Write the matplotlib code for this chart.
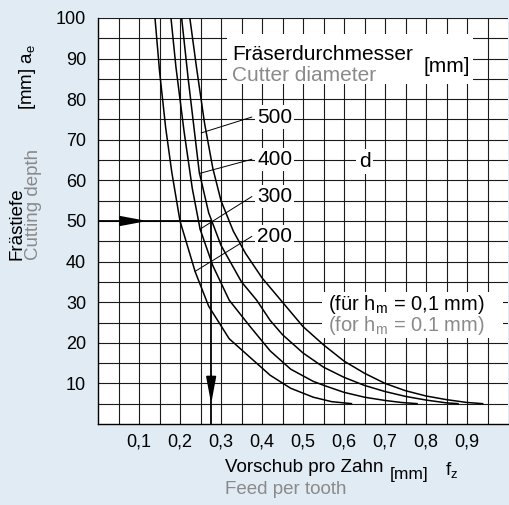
import numpy as np
import matplotlib
matplotlib.use("Agg")
import matplotlib.pyplot as plt
from matplotlib.patches import Rectangle

plt.rcParams['font.family'] = ['Liberation Sans', 'DejaVu Sans']
plt.rcParams['mathtext.default'] = 'regular'

d200_fz = [0.139, 0.15, 0.165, 0.18, 0.20, 0.237, 0.27, 0.32, 0.371, 0.42, 0.47, 0.525, 0.57, 0.62]
d200_ae = [100, 87, 73, 62, 50, 37.5, 29, 21, 16.4, 12, 8.8, 6.6, 5.5, 5.0]
d300_fz = [0.178, 0.19, 0.21, 0.23, 0.249, 0.28, 0.32, 0.371, 0.42, 0.47, 0.525, 0.554, 0.60, 0.65, 0.70, 0.74, 0.78]
d300_ae = [100, 88, 72, 58, 48, 39, 30.5, 24, 18, 13.5, 10.5, 9.4, 7.8, 6.6, 5.8, 5.3, 5.0]
d400_fz = [0.204, 0.22, 0.247, 0.27, 0.30, 0.35, 0.387, 0.42, 0.45, 0.50, 0.55, 0.60, 0.65, 0.70, 0.75, 0.80, 0.85, 0.88]
d400_ae = [100, 85, 62, 52, 44, 35, 30.5, 25.5, 22, 17.5, 14, 11.5, 9.5, 8, 6.8, 5.9, 5.2, 5.0]
d500_fz = [0.224, 0.24, 0.26, 0.28, 0.30, 0.33, 0.36, 0.40, 0.45, 0.50, 0.55, 0.60, 0.65, 0.70, 0.75, 0.80, 0.85, 0.90, 0.94]
d500_ae = [100, 88, 74, 63, 55, 47.5, 42, 36, 30, 24, 19.5, 15.5, 12.5, 10, 8.2, 6.9, 6.0, 5.3, 5.0]

kurven = [(d200_fz, d200_ae), (d300_fz, d300_ae), (d400_fz, d400_ae), (d500_fz, d500_ae)]
durchmesser = ['200', '300', '400', '500']
label_y = [46.2, 56, 65.2, 75.6]
leader_end = [(0.237, 37.6), (0.249, 48), (0.247, 61.7), (0.252, 71.7)]

xticks = [0.1, 0.2, 0.3, 0.4, 0.5, 0.6, 0.7, 0.8, 0.9]
xticklabels = ['0,1', '0,2', '0,3', '0,4', '0,5', '0,6', '0,7', '0,8', '0,9']
yticks = [10, 20, 30, 40, 50, 60, 70, 80, 90, 100]

ae_beispiel = 50
fz_beispiel = 0.276

bg = '#e0ebf4'
grau = '#8a8a8a'

fig = plt.figure(figsize=(5.1, 5.05), dpi=100, facecolor=bg)
ax = fig.add_axes([98/510, 1-424/505, 410/510, 406/505])
ax.set_facecolor('white')
ax.set_xlim(0, 1.0)
ax.set_ylim(0, 100)

# Raster
for gx in np.arange(0.05, 0.99, 0.05):
    ax.axvline(gx, color='#1a1a1a', lw=0.8, zorder=1)
for gy in np.arange(5, 101, 5):
    ax.axhline(gy, color='#1a1a1a', lw=0.8, zorder=1)

for s in ['top', 'right']:
    ax.spines[s].set_visible(False)
ax.spines['left'].set_linewidth(1.0)
ax.spines['bottom'].set_linewidth(1.0)

ax.set_xticks(xticks)
ax.set_xticklabels(xticklabels, fontsize=13)
ax.set_yticks(yticks)
ax.set_yticklabels([str(v) for v in yticks], fontsize=13)
ax.tick_params(axis='x', length=0, pad=6.5)
ax.tick_params(axis='y', length=0, pad=8.5)

for (fx, ay) in kurven:
    ax.plot(fx, ay, color='black', lw=1.1, zorder=3, solid_capstyle='butt')

# Beschriftung der Kurven
for name, ly, (ex, ey) in zip(durchmesser, label_y, leader_end):
    ax.plot([ex, 0.375], [ey, ly], color='black', lw=0.7, zorder=3)
    ax.text(0.388, ly, name, fontsize=15, ha='left', va='center', zorder=5,
            bbox=dict(fc='white', ec='none', pad=1.5))

ax.text(0.651, 64.7, 'd', fontsize=15, ha='center', va='center', zorder=5,
        bbox=dict(fc='white', ec='none', pad=2))

# Legende oben
ax.add_patch(Rectangle((0.315, 83.8), 0.6, 12.2, fc='white', ec='none', zorder=4))
ax.text(0.327, 91.1, 'Fräserdurchmesser', fontsize=15, ha='left', va='center', zorder=5)
ax.text(0.327, 85.9, 'Cutter diameter', fontsize=15, ha='left', va='center', color=grau, zorder=5)
ax.text(0.793, 88.1, '[mm]', fontsize=15, ha='left', va='center', zorder=5)

# Hinweis hm
ax.add_patch(Rectangle((0.546, 21.2), 0.442, 11.4, fc='white', ec='none', zorder=4))
ax.text(0.561, 29.4, '(für h$_m$ = 0,1 mm)', fontsize=14.5, ha='left', va='center', zorder=5)
ax.text(0.561, 24.2, '(for h$_m$ = 0.1 mm)', fontsize=14.5, ha='left', va='center', color=grau, zorder=5)

# Beispiel mit Pfeilen
pfeil = dict(arrowstyle='-|>,head_length=1.6,head_width=0.3', color='black', lw=1.3,
             shrinkA=0, shrinkB=0)
ax.plot([0, fz_beispiel], [ae_beispiel, ae_beispiel], color='black', lw=1.3, zorder=3)
ax.plot([fz_beispiel, fz_beispiel], [ae_beispiel, 0], color='black', lw=1.3, zorder=3)
ax.annotate('', xy=(0.12, ae_beispiel), xytext=(0.06, ae_beispiel), zorder=6, arrowprops=pfeil)
ax.annotate('', xy=(fz_beispiel, 5), xytext=(fz_beispiel, 12), zorder=6, arrowprops=pfeil)

# Achsentitel
fig.text(17/510, 1-260/505, 'Frästiefe', rotation=90, rotation_mode='anchor',
         ha='left', va='center', fontsize=13.5)
fig.text(34/510, 1-260/505, 'Cutting depth', rotation=90, rotation_mode='anchor',
         ha='left', va='center', fontsize=13.5, color=grau)
fig.text(27/510, 1-110/505, '[mm] a$_e$', rotation=90, rotation_mode='anchor',
         ha='left', va='center', fontsize=13.5)

fig.text(225/510, 1-468/505, 'Vorschub pro Zahn', ha='left', va='center', fontsize=13.5)
fig.text(390/510, 1-474/505, '[mm]', ha='left', va='center', fontsize=12.5)
fig.text(445/510, 1-470/505, 'f$_z$', ha='left', va='center', fontsize=13.5)
fig.text(225/510, 1-490/505, 'Feed per tooth', ha='left', va='center', fontsize=13.5, color=grau)

fig.savefig('out.png', dpi=100, facecolor=bg)
